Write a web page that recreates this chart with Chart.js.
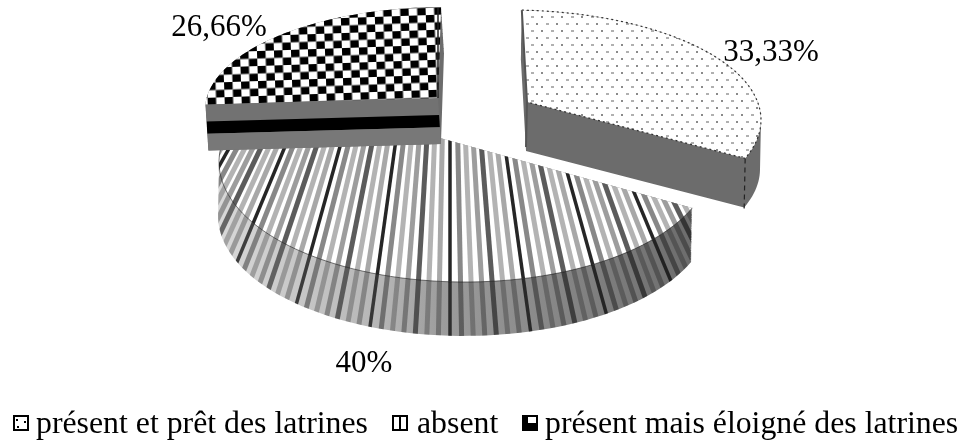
<!DOCTYPE html>
<html>
<head>
<meta charset="utf-8">
<title>Latrines</title>
<style>
  html, body { margin: 0; padding: 0; background: #fff; }
  canvas { display: block; filter: blur(0.55px); }
</style>
<script src="https://cdn.jsdelivr.net/npm/chart.js"></script>
</head>
<body>
<canvas id="pie" width="964" height="441"></canvas>
<script>
  const categories = ['présent et prêt des latrines', 'absent', 'présent mais éloigné des latrines'];
  const shares = [33.33, 40, 26.66];
  const shareLabels = ['33,33%', '40%', '26,66%'];

  // where each slice sits on the page: apex, ellipse, depth, and how the pie angle
  // gets squeezed by the perspective of the original
  const sliceGeom = [
    { ax: 527, ay: 102, cx: 510, cy: 120, rx: 251, ry: 110, stretch: 0.898, shift: 2.7, dx: -1, dy: 50 },
    { ax: 440, ay: 138, cx: 465, cy: 162, rx: 246, ry: 120, stretch: 1.149, shift: -25.4, dx: -1, dy: 55 },
    { ax: 438, ay: 98, cx: 445, cy: 110, rx: 240, ry: 103, stretch: 0.896, shift: 36.5, dx: 3, dy: 47 }
  ];
  const labelPos = [[771, 61], [364, 372], [219, 36]];
  const legendPos = [[13, 36], [392, 417], [522, 545]];
  const serif = '"Liberation Serif", "Times New Roman", serif';

  function tile(w, h, paint) {
    const c = document.createElement('canvas');
    c.width = w;
    c.height = h;
    paint(c.getContext('2d'));
    return c;
  }

  const dotTile = tile(20, 14, g => {
    g.fillStyle = '#fff';
    g.fillRect(0, 0, 20, 14);
    g.fillStyle = '#8a8a8a';
    g.fillRect(1, 2, 2, 2);
    g.fillRect(16, 9, 2, 2);
    g.fillStyle = '#b0b0b0';
    g.fillRect(11, 2, 3, 2);
    g.fillRect(6, 9, 3, 2);
  });
  const checkTile = tile(17, 15, g => {
    g.fillStyle = '#fff';
    g.fillRect(0, 0, 17, 15);
    g.fillStyle = '#000';
    g.fillRect(0, 0, 8.5, 7.5);
    g.fillRect(8.5, 7.5, 8.5, 7.5);
  });

  function arcPoints(arc, geom) {
    const pts = [];
    const n = 70;
    for (let i = 0; i <= n; i++) {
      const a = arc.startAngle + (arc.endAngle - arc.startAngle) * i / n + Math.PI / 2;
      const t = a * geom.stretch + geom.shift * Math.PI / 180;
      pts.push([geom.cx + geom.rx * Math.sin(t), geom.cy - geom.ry * Math.cos(t)]);
    }
    return pts;
  }

  function tracePoly(ctx, pts, ox, oy) {
    pts.forEach((p, i) => {
      if (i === 0) ctx.moveTo(p[0] + ox, p[1] + oy);
      else ctx.lineTo(p[0] + ox, p[1] + oy);
    });
    ctx.closePath();
  }

  // fan of stripes, they lean towards a point far above the pie
  function fanLines(ctx, strength) {
    const vx = 450, vy = -250, step = 10.5;
    const dark = [1, 0.55, 0.35, 0.45, 0.75, 0.35, 0.4];
    for (let k = -36; k <= 36; k++) {
      const xb = 450 + k * step;
      const reach = (xb - vx) / (280 - vy);
      const d = dark[(k + 70) % 7];
      ctx.beginPath();
      ctx.moveTo(vx + reach * (100 - vy), 100);
      ctx.lineTo(vx + reach * (350 - vy), 350);
      ctx.strokeStyle = 'rgba(0,0,0,' + (d * strength) + ')';
      ctx.lineWidth = d > 0.9 ? 3.5 : 5;
      ctx.stroke();
    }
  }

  function drawAbsent(ctx, arc, geom) {
    const pts = arcPoints(arc, geom);
    const wedge = [[geom.ax, geom.ay]].concat(pts);

    ctx.save();
    ctx.beginPath();
    for (let d = 0; d <= 1; d += 0.02) tracePoly(ctx, wedge, geom.dx * d, geom.dy * d);
    ctx.clip();
    const wall = ctx.createLinearGradient(220, 0, 695, 0);
    wall.addColorStop(0, '#d8d8d8');
    wall.addColorStop(0.35, '#b4b4b4');
    wall.addColorStop(0.47, '#9c9c9c');
    wall.addColorStop(1, '#6c6c6c');
    ctx.fillStyle = wall;
    ctx.fillRect(150, 100, 600, 260);
    fanLines(ctx, 0.7);
    ctx.restore();

    ctx.save();
    ctx.beginPath();
    tracePoly(ctx, wedge, 0, 0);
    ctx.clip();
    ctx.fillStyle = '#fff';
    ctx.fillRect(150, 100, 600, 260);
    fanLines(ctx, 0.85);
    ctx.restore();

    ctx.beginPath();
    pts.forEach((p, i) => i ? ctx.lineTo(p[0], p[1]) : ctx.moveTo(p[0], p[1]));
    ctx.strokeStyle = 'rgba(0,0,0,0.5)';
    ctx.lineWidth = 1;
    ctx.stroke();
  }

  function drawSlice(ctx, arc, geom, pattern, wallPaint) {
    const pts = arcPoints(arc, geom);
    const wedge = [[geom.ax, geom.ay]].concat(pts);

    ctx.save();
    ctx.beginPath();
    for (let d = 0; d <= 1; d += 0.02) tracePoly(ctx, wedge, geom.dx * d, geom.dy * d);
    ctx.clip();
    ctx.fillStyle = '#6c6c6c';
    ctx.fillRect(150, 0, 650, 260);
    wallPaint(pts);
    ctx.restore();

    ctx.beginPath();
    tracePoly(ctx, wedge, 0, 0);
    const fill = ctx.createPattern(pattern.tile, 'repeat');
    fill.setTransform(new DOMMatrix().rotate(pattern.turn));
    ctx.fillStyle = fill;
    ctx.fill();
    return pts;
  }

  function drawSwatch(ctx, i, x) {
    const y = 415, s = 16;
    ctx.fillStyle = '#fff';
    ctx.fillRect(x, y, s, s);
    ctx.fillStyle = '#000';
    if (i === 0) {
      ctx.fillRect(x + 3, y + 4, 2, 2);
      ctx.fillRect(x + 11, y + 6, 2, 2);
      ctx.fillRect(x + 4, y + 11, 2, 2);
    } else if (i === 1) {
      ctx.fillRect(x + 7, y, 2, s);
    } else {
      ctx.fillRect(x, y + 8, s, 8);
      ctx.fillRect(x, y, 6, s);
    }
    ctx.strokeStyle = '#000';
    ctx.lineWidth = 2;
    ctx.strokeRect(x + 1, y + 1, s - 2, s - 2);
  }

  const pie3d = {
    id: 'pie3d',
    beforeDatasetDraw() {
      return false;
    },
    afterDatasetsDraw(chart) {
      const ctx = chart.ctx;
      const arcs = chart.getDatasetMeta(0).data;

      drawAbsent(ctx, arcs[1], sliceGeom[1]);

      // checkered slice, its front face has three bands
      const g3 = sliceGeom[2];
      drawSlice(ctx, arcs[2], g3, { tile: checkTile, turn: -2 }, pts => {
        const left = pts[0];
        const bands = [[0, 0.36, '#727272'], [0.36, 0.62, '#000'], [0.62, 1.02, '#787878']];
        bands.forEach(b => {
          ctx.beginPath();
          ctx.moveTo(left[0] + g3.dx * b[0], left[1] + g3.dy * b[0]);
          ctx.lineTo(g3.ax + g3.dx * b[0], g3.ay + g3.dy * b[0]);
          ctx.lineTo(g3.ax + g3.dx * b[1], g3.ay + g3.dy * b[1]);
          ctx.lineTo(left[0] + g3.dx * b[1], left[1] + g3.dy * b[1]);
          ctx.closePath();
          ctx.fillStyle = b[2];
          ctx.fill();
        });
      });
      ctx.beginPath();
      ctx.moveTo(g3.ax, g3.ay - 90);
      ctx.lineTo(g3.ax, g3.ay);
      ctx.strokeStyle = '#222';
      ctx.lineWidth = 1.5;
      ctx.stroke();

      // dotted slice, dark face with a speckled rim
      const g1 = sliceGeom[0];
      const pts1 = drawSlice(ctx, arcs[0], g1, { tile: dotTile, turn: 0 }, () => {});
      ctx.beginPath();
      pts1.forEach((p, i) => i ? ctx.lineTo(p[0], p[1]) : ctx.moveTo(p[0], p[1]));
      ctx.setLineDash([2, 3]);
      ctx.strokeStyle = '#333';
      ctx.lineWidth = 1.2;
      ctx.stroke();
      ctx.beginPath();
      ctx.moveTo(pts1[70][0], pts1[70][1]);
      ctx.lineTo(g1.ax, g1.ay);
      ctx.stroke();
      ctx.beginPath();
      ctx.moveTo(pts1[70][0], pts1[70][1]);
      ctx.lineTo(pts1[70][0] + g1.dx, pts1[70][1] + g1.dy);
      ctx.setLineDash([5, 4]);
      ctx.strokeStyle = '#222';
      ctx.stroke();
      ctx.setLineDash([]);
      ctx.beginPath();
      ctx.moveTo(pts1[0][0], pts1[0][1]);
      ctx.lineTo(g1.ax, g1.ay);
      ctx.lineTo(g1.ax - 1, g1.ay + g1.dy * 0.9);
      ctx.strokeStyle = '#555';
      ctx.lineWidth = 2;
      ctx.stroke();

      // values and legend
      ctx.fillStyle = '#000';
      ctx.font = '31px ' + serif;
      ctx.textBaseline = 'alphabetic';
      ctx.textAlign = 'center';
      shareLabels.forEach((t, i) => ctx.fillText(t, labelPos[i][0], labelPos[i][1]));

      categories.forEach((name, i) => {
        drawSwatch(ctx, i, legendPos[i][0]);
        ctx.fillStyle = '#000';
        ctx.font = '31.8px ' + serif;
        ctx.textAlign = 'left';
        ctx.fillText(name, legendPos[i][1], 433);
      });
    }
  };

  new Chart(document.getElementById('pie'), {
    type: 'pie',
    data: {
      labels: categories,
      datasets: [{ data: shares, backgroundColor: ['#fff', '#bbb', '#000'], borderWidth: 0 }]
    },
    options: {
      responsive: false,
      animation: false,
      rotation: 0,
      plugins: { legend: { display: false }, tooltip: { enabled: false } }
    },
    plugins: [pie3d]
  });
</script>
</body>
</html>
